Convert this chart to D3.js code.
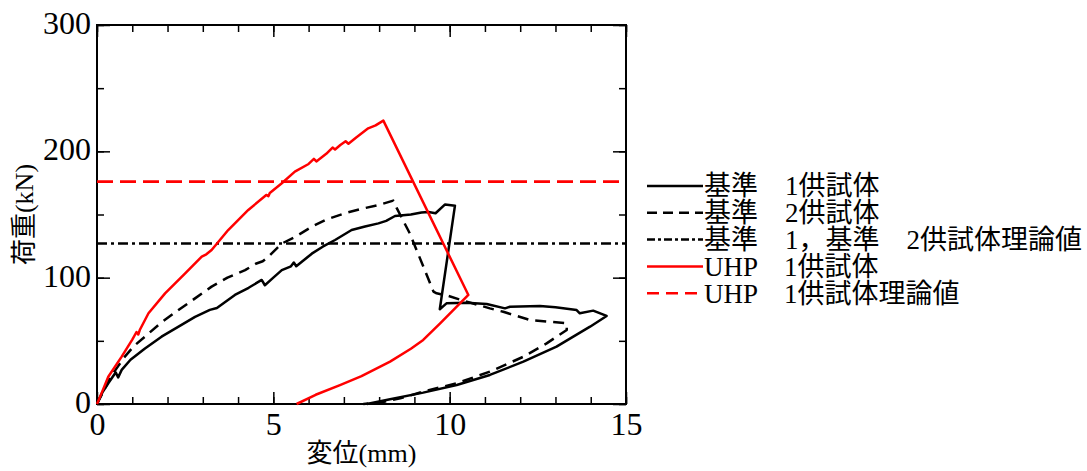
<!DOCTYPE html>
<html>
<head>
<meta charset="utf-8">
<script src="https://cdn.jsdelivr.net/npm/d3@7"></script>
<style>
  body { margin: 0; background: #fff; }
</style>
</head>
<body>
<svg id="chart" width="1087" height="471"></svg>
<script>
// axis ticks
const xMajor = [0, 5, 10, 15];
const xMinor = d3.range(0, 16, 1);
const yMajor = [0, 100, 200, 300];
const yMinor = d3.range(0, 301, 50);

// 基準1供試体 (load, drop, plateau, unload)
const base1 = [[0,0],[0.15,9],[0.32,16.4],[0.48,23],[0.53,25],[0.6,21],[0.7,27],[0.95,35],[1.36,44],
  [1.83,53.3],[2.3,61],[2.78,69],[3.2,74.5],[3.4,76],[3.91,86.3],[4.3,92],[4.67,98.2],[4.76,94],
  [5.0,100],[5.24,106],[5.5,109],[5.58,112],[5.65,109],[6.09,119],[6.4,124.5],[6.75,129.8],
  [7.22,137.7],[7.6,140.5],[7.98,143],[8.2,145],[8.45,148.8],[8.9,150],[9.2,151.5],[9.4,152],
  [9.6,151],[9.87,158],[10.15,157],[9.72,75],[9.91,79.7],[10.48,80.2],[11.05,79.2],[11.57,75.7],
  [11.71,77],[12.56,77.6],[13.0,76.5],[13.6,74.4],[13.69,71.8],[14.07,73.9],[14.45,69.7],
  [13.98,61.2],[13.03,45.4],[12.09,33.5],[11.14,23],[10.2,15],[9.25,9],[8.31,3.7],[7.65,0]];

// 基準2供試体
const base2 = [[0,0],[0.2,11],[0.4,22],[0.6,30],[0.79,37.5],[1.05,46],[1.36,53.3],[1.8,64],
  [2.31,74.4],[2.8,84],[3.25,92.9],[3.7,100],[4.2,106],[4.5,111],[4.7,113],[4.86,116.6],
  [5.24,127],[5.6,132],[6.09,140.3],[6.5,146],[7.03,151],[7.5,154.5],[7.98,157.5],[8.4,161],
  [8.5,155],[8.87,135],[9.25,109],[9.54,89],[9.63,87.6],[9.91,86],[10.39,81.8],[11.14,75.7],
  [11.52,73],[12.28,66.5],[13.32,63.9],[13.32,58.6],[12.75,48],[12.09,37.4],[11.14,25.6],
  [10.2,16.4],[9.25,9.8],[8.6,4.5],[8.02,1],[7.55,0]];

// UHP1供試体
const uhp1 = [[0,0],[0.15,10],[0.32,21.6],[0.7,37.5],[1.0,51],[1.12,57],[1.17,55],[1.22,59],
  [1.46,71.8],[1.93,87.6],[2.5,103.4],[2.97,116.6],[3.1,118.5],[3.25,121.9],[3.72,137.7],
  [4.29,153.6],[4.8,165.5],[4.86,164.5],[4.9,167],[5.24,174.7],[5.61,183.9],[6.0,190],
  [6.15,194],[6.22,192],[6.5,198],[6.68,203],[6.75,201.5],[6.9,205],[7.05,208],[7.13,206],
  [7.35,211],[7.69,218.2],[7.9,220.5],[8.12,224.3],[10.53,86.3],[10.2,77],[9.73,63.9],
  [9.25,50.7],[8.9,43.7],[8.31,33.5],[7.5,22],[6.89,15],[6.2,7.3],[5.66,0]];

// theoretical values (kN)
const baseTheory = 127;
const uhpTheory = 176;

const legendLabels = ["基準　1供試体", "基準　2供試体", "基準　1，基準　2供試体理論値",
  "UHP　1供試体", "UHP　1供試体理論値"];

const margin = { left: 97, top: 25, right: 461, bottom: 67 };
const svg = d3.select("#chart");
const width = +svg.attr("width");
const height = +svg.attr("height");
const innerWidth = width - margin.left - margin.right;
const innerHeight = height - margin.top - margin.bottom;
const fontFam = "'Liberation Serif', 'Noto Sans CJK JP', serif";

const x = d3.scaleLinear().domain([0, 15]).range([0, innerWidth]);
const y = d3.scaleLinear().domain([0, 300]).range([innerHeight, 0]);

const g = svg.append("g").attr("transform", "translate(" + margin.left + "," + margin.top + ")");

// ticks, all pointing inward
function styleAxis(sel) {
  sel.select(".domain").remove();
  sel.attr("font-family", fontFam).attr("font-size", 32);
  sel.selectAll("line").attr("stroke", "#000").attr("stroke-width", 1.5);
  sel.selectAll("text").attr("fill", "#000");
}
function noLabels(sel) {
  sel.selectAll("text").remove();
}
g.append("g").attr("transform", "translate(0," + innerHeight + ")")
  .call(d3.axisBottom(x).tickValues(xMinor).tickSize(-7)).call(styleAxis).call(noLabels);
g.append("g").attr("transform", "translate(0," + innerHeight + ")")
  .call(d3.axisBottom(x).tickValues(xMajor).tickSizeInner(-12).tickSizeOuter(0).tickPadding(8)
    .tickFormat(d3.format("d"))).call(styleAxis);
g.append("g")
  .call(d3.axisTop(x).tickValues(xMinor).tickSize(-7)).call(styleAxis).call(noLabels);
g.append("g")
  .call(d3.axisTop(x).tickValues(xMajor).tickSize(-12)).call(styleAxis).call(noLabels);
g.append("g")
  .call(d3.axisLeft(y).tickValues(yMinor).tickSize(-7)).call(styleAxis).call(noLabels);
g.append("g")
  .call(d3.axisLeft(y).tickValues(yMajor).tickSizeInner(-13).tickSizeOuter(0).tickPadding(6)
    .tickFormat(d3.format("d"))).call(styleAxis)
  .selectAll("text").attr("dy", "0.27em");
g.append("g").attr("transform", "translate(" + innerWidth + ",0)")
  .call(d3.axisRight(y).tickValues(yMinor).tickSize(-7)).call(styleAxis).call(noLabels);
g.append("g").attr("transform", "translate(" + innerWidth + ",0)")
  .call(d3.axisRight(y).tickValues(yMajor).tickSize(-13)).call(styleAxis).call(noLabels);

// frame
g.append("rect")
  .attr("width", innerWidth).attr("height", innerHeight)
  .attr("fill", "none").attr("stroke", "#000").attr("stroke-width", 2);

const line = d3.line()
  .x(function(d) { return x(d[0]); })
  .y(function(d) { return y(d[1]); });

// theory lines
g.append("path").datum([[0, baseTheory], [15, baseTheory]])
  .attr("d", line).attr("fill", "none").attr("stroke", "#000")
  .attr("stroke-width", 2.6).attr("stroke-dasharray", "10,4,3,4");
g.append("path").datum([[0, uhpTheory], [15, uhpTheory]])
  .attr("d", line).attr("fill", "none").attr("stroke", "#ff0000")
  .attr("stroke-width", 2.6).attr("stroke-dasharray", "16,7");

// measured curves
g.append("path").datum(base1)
  .attr("d", line).attr("fill", "none").attr("stroke", "#000")
  .attr("stroke-width", 2.5).attr("stroke-linejoin", "round");
g.append("path").datum(base2)
  .attr("d", line).attr("fill", "none").attr("stroke", "#000")
  .attr("stroke-width", 2.5).attr("stroke-dasharray", "11,7").attr("stroke-linejoin", "round");
g.append("path").datum(uhp1)
  .attr("d", line).attr("fill", "none").attr("stroke", "#ff0000")
  .attr("stroke-width", 2.5).attr("stroke-linejoin", "round");

// axis titles
svg.append("text")
  .attr("x", margin.left + innerWidth / 2).attr("y", 462)
  .attr("text-anchor", "middle")
  .attr("font-family", fontFam).attr("font-size", 26)
  .text("変位(mm)");
svg.append("text")
  .attr("transform", "translate(33," + (margin.top + innerHeight / 2) + ") rotate(-90)")
  .attr("text-anchor", "middle")
  .attr("font-family", fontFam).attr("font-size", 26)
  .text("荷重(kN)");

// legend
const legendStyles = [
  { stroke: "#000", dash: null },
  { stroke: "#000", dash: "10,6" },
  { stroke: "#000", dash: "8,3,3,3" },
  { stroke: "#ff0000", dash: null },
  { stroke: "#ff0000", dash: "12,7" }
];
const legend = svg.append("g").attr("transform", "translate(647,186)");
legendLabels.forEach(function(label, i) {
  const row = legend.append("g").attr("transform", "translate(0," + (i * 26.8) + ")");
  row.append("line")
    .attr("x1", 0).attr("x2", 56).attr("y1", 0).attr("y2", 0)
    .attr("stroke", legendStyles[i].stroke).attr("stroke-width", 2.5)
    .attr("stroke-dasharray", legendStyles[i].dash);
  row.append("text")
    .attr("x", 57).attr("dy", "0.35em")
    .attr("font-family", fontFam).attr("font-size", 27)
    .text(label);
});
</script>
</body>
</html>
